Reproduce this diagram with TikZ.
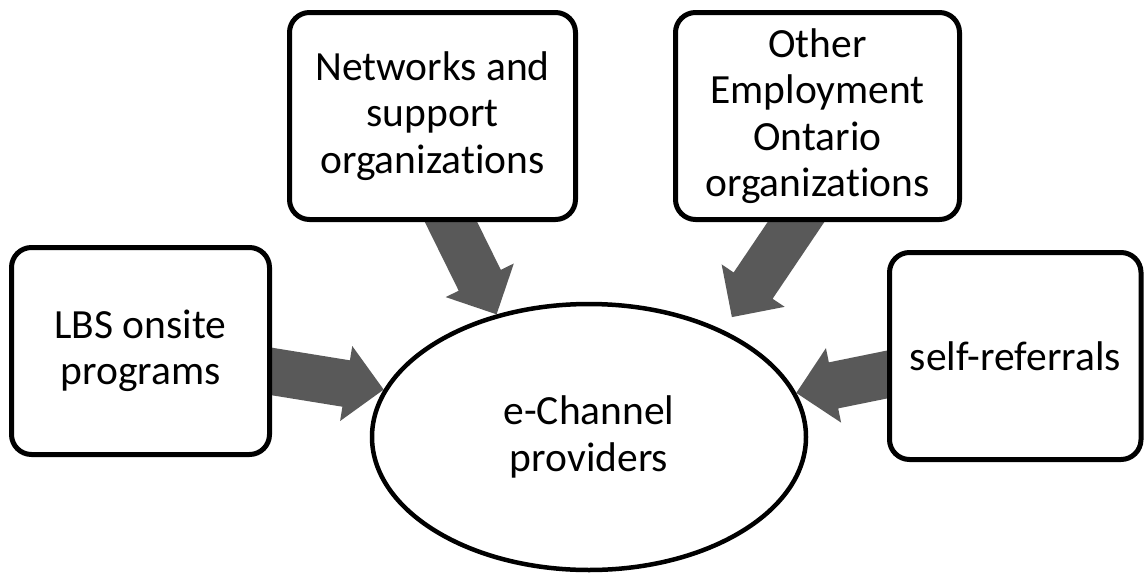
\documentclass[tikz,border=0pt]{standalone}
\usepackage{fontspec}
\setmainfont{Carlito}[RawFeature={-liga;-calt;-dlig}]
\usetikzlibrary{calc,backgrounds,shapes.geometric}
\definecolor{arrowgray}{RGB}{89,89,89}
\tikzset{
  labeltext/.style={font=\fontsize{41.5}{46.5}\selectfont},
  box/.style={draw=black, line width=5pt, fill=white, rounded corners=20pt,
    align=center, inner sep=0pt, labeltext},
  hub/.style={ellipse, draw=black, line width=4.5pt, fill=white, align=center,
    inner sep=0pt, minimum width=434pt, minimum height=266pt, labeltext},
  blockarrowfill/.style={fill=arrowgray}
}
% #1 start coordinate, #2 tip coordinate
\newcommand{\blockarr}[2]{%
  \coordinate (bS) at ($#1!-25pt!#2$);
  \coordinate (bT) at #2;
  \coordinate (bH) at ($(bT)!38pt!(bS)$);
  \fill[blockarrowfill] ($(bS)!23.5pt!90:(bT)$) -- ($(bH)!23.5pt!90:(bT)$)
    -- ($(bH)!38pt!90:(bT)$) -- (bT) -- ($(bH)!38pt!-90:(bT)$)
    -- ($(bH)!23.5pt!-90:(bT)$) -- ($(bS)!23.5pt!-90:(bT)$) -- cycle;
}
\begin{document}
\begin{tikzpicture}[x=1pt,y=-1pt]
\useasboundingbox (0,0) rectangle (1146,573);
\node[box, minimum width=258pt, minimum height=207pt] (lbs) at (140.5,351) {LBS onsite\\programs};
\node[box, minimum width=286pt, minimum height=207pt] (net) at (432.5,116) {Networks and\\support\\organizations};
\node[box, minimum width=284pt, minimum height=207pt] (oth) at (817.5,116) {Other\\Employment\\Ontario\\organizations};
\node[box, minimum width=251.5pt, minimum height=207pt] (slf) at (1015.25,356) {self-referrals};
\node[hub] (e) at (589,437) {e-Channel\\providers};
\coordinate (s1) at ([yshift=-20.5pt]lbs.east);
\coordinate (s2) at ([xshift=18.5pt]net.south);
\coordinate (s3) at ([xshift=-21.5pt]oth.south);
\coordinate (s4) at ([yshift=-18.5pt]slf.west);
\coordinate (t1) at (e.167.7);
\coordinate (t2) at (e.127.8);
\coordinate (t3) at ($(e.40.6)!-17pt!(e.center)$);
\coordinate (t4) at (e.12.3);
\begin{scope}[on background layer]
\blockarr{(s1)}{(t1)}
\blockarr{(s2)}{(t2)}
\blockarr{(s3)}{(t3)}
\blockarr{(s4)}{(t4)}
\end{scope}
\end{tikzpicture}
\end{document}
